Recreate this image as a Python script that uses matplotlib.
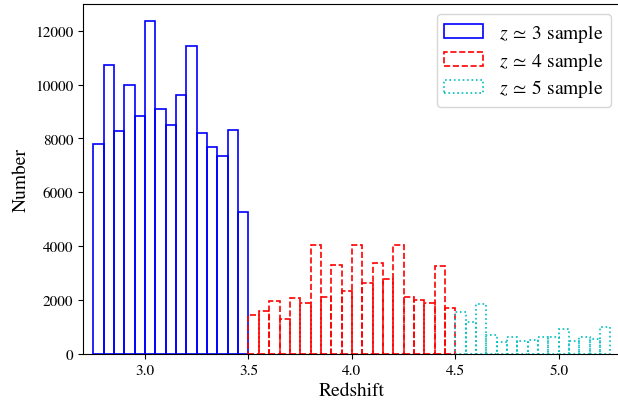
import numpy as np
import matplotlib
matplotlib.use("Agg")
import matplotlib.pyplot as plt

plt.rcParams['font.family'] = ['STIXGeneral', 'DejaVu Serif']
plt.rcParams['mathtext.fontset'] = 'stix'

# Bin edges (redshift) and counts for each sample
z3_edges = [2.75, 2.80, 2.85, 2.90, 2.95, 3.00, 3.05, 3.10, 3.15, 3.20, 3.25, 3.30, 3.35, 3.40, 3.45, 3.50]
z3_counts = [7810, 10720, 8270, 9980, 8830, 12360, 9080, 8490, 9610, 11440, 8210, 7670, 7330, 8310, 5260]

z4_edges = [3.50, 3.55, 3.60, 3.65, 3.70, 3.75, 3.80, 3.85, 3.90, 3.95, 4.00, 4.05, 4.10, 4.15, 4.20, 4.25, 4.30, 4.35, 4.40, 4.45, 4.50]
z4_counts = [1440, 1590, 1970, 1290, 2070, 1860, 4050, 2110, 3300, 2330, 4030, 2640, 3370, 2780, 4050, 2110, 1980, 1860, 3240, 1700]

z5_edges = [4.50, 4.55, 4.60, 4.65, 4.70, 4.75, 4.80, 4.85, 4.90, 4.95, 5.00, 5.05, 5.10, 5.15, 5.20, 5.25]
z5_counts = [1540, 1190, 1850, 690, 420, 620, 450, 500, 630, 630, 920, 460, 630, 550, 990]

labels = [r'$z\:\simeq\:3$ sample', r'$z\:\simeq\:4$ sample', r'$z\:\simeq\:5$ sample']
colors = ['b', 'r', 'c']
styles = ['-', '--', ':']

fig = plt.figure(figsize=(6.18, 4.06), dpi=100)
ax = fig.add_axes([83/618, 1 - 354.5/406, (620.8 - 83)/618, (354.5 - 5)/406])

for edges, counts, lab, c, ls in zip([z3_edges, z4_edges, z5_edges],
                                     [z3_counts, z4_counts, z5_counts],
                                     labels, colors, styles):
    centers = (np.array(edges[:-1]) + np.array(edges[1:])) / 2
    ax.hist(centers, bins=edges, weights=counts, histtype='bar', fill=False,
            edgecolor=c, linestyle=ls, linewidth=1.2, label=lab)

ax.set_xlim(2.7, 5.3)
ax.set_ylim(0, 13000)
ax.set_xticks([3.0, 3.5, 4.0, 4.5, 5.0])
ax.set_yticks([0, 2000, 4000, 6000, 8000, 10000, 12000])
ax.tick_params(labelsize=11)
ax.set_xlabel('Redshift', fontsize=14)
ax.set_ylabel('Number', fontsize=14)

ax.legend(loc='upper right', bbox_to_anchor=(611/618, 1 - 15/406),
          bbox_transform=fig.transFigure, borderaxespad=0, fontsize=14,
          labelspacing=0.3)

fig.savefig('out.png', dpi=100)
